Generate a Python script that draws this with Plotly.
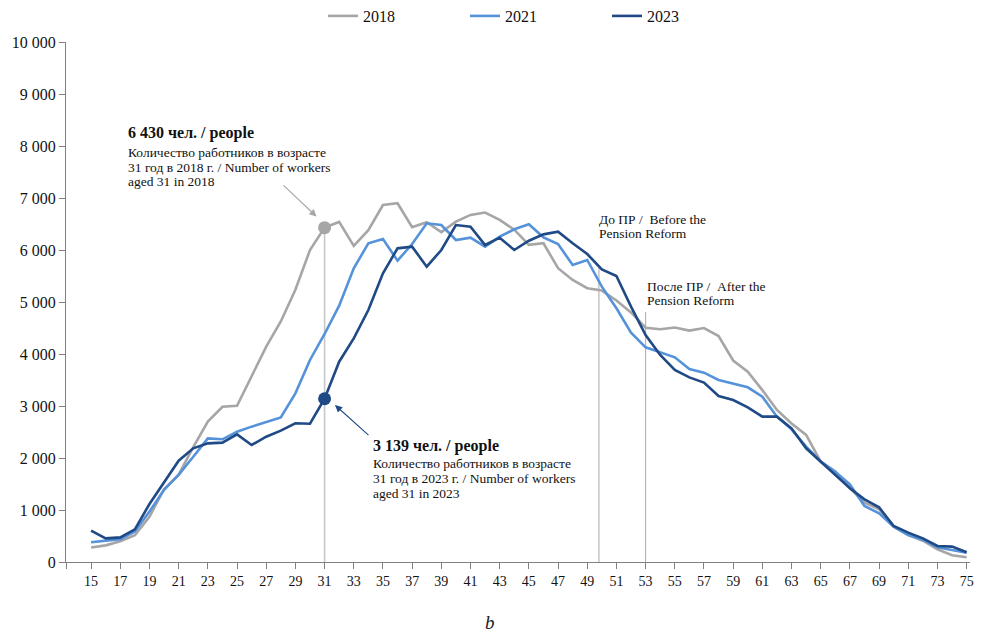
import plotly.graph_objects as go

ages = list(range(15, 76))

workers_2018 = [280, 320, 400, 515, 870, 1400, 1680, 2210, 2700, 2985, 3005,
                3560, 4140, 4625, 5235, 6000, 6430, 6540, 6080, 6380, 6865,
                6900, 6440, 6535, 6345, 6545, 6675, 6720, 6580, 6390, 6100,
                6130, 5650, 5425, 5265, 5220, 5030, 4800, 4505, 4475, 4510,
                4450, 4500, 4345, 3875, 3660, 3305, 2925, 2665, 2445, 1930,
                1740, 1420, 1140, 1015, 680, 520, 410, 245, 130, 90]

workers_2021 = [380, 417, 440, 585, 970, 1390, 1675, 2025, 2378, 2360, 2505,
                2603, 2688, 2780, 3244, 3885, 4385, 4930, 5647, 6128, 6212,
                5795, 6115, 6513, 6480, 6192, 6237, 6064, 6256, 6398, 6494,
                6244, 6115, 5712, 5808, 5295, 4880, 4410, 4128, 4026, 3936,
                3712, 3641, 3500, 3436, 3359, 3179, 2795, 2551, 2218, 1929,
                1737, 1494, 1077, 936, 679, 519, 430, 282, 231, 179]

workers_2023 = [603, 455, 474, 628, 1115, 1545, 1949, 2186, 2282, 2295, 2455,
                2250, 2410, 2526, 2667, 2660, 3139, 3852, 4300, 4846, 5551,
                6032, 6064, 5679, 6000, 6480, 6449, 6096, 6237, 6000, 6179,
                6301, 6352, 6128, 5923, 5628, 5500, 4910, 4365, 3981, 3692,
                3551, 3449, 3192, 3115, 2974, 2795, 2795, 2571, 2186, 1929,
                1673, 1417, 1205, 1051, 692, 564, 455, 308, 295, 186]

series_names = ["2018", "2021", "2023"]
series_colors = ["#a6a6a6", "#5592da", "#1f4a86"]
series_values = [workers_2018, workers_2021, workers_2023]

y_tickvals = list(range(0, 10001, 1000))
y_ticktext = ["0", "1 000", "2 000", "3 000", "4 000", "5 000", "6 000",
              "7 000", "8 000", "9 000", "10 000"]
x_labels = list(range(15, 76, 2))

highlight_age = 31
reform_before_age = 49.8
reform_after_age = 53

FONT = "Liberation Serif, Times New Roman, serif"
X0, X1 = 13.28, 75.23
L, R, T, B = 66, 14, 42, 73
W, H = 984, 635
PW = W - L - R
PH = H - T - B


def dx(px):
    return X0 + (px - L) / PW * (X1 - X0)


def dy(py):
    return (T + PH - py) / PH * 10000


fig = go.Figure()
for name, color, vals in zip(series_names, series_colors, series_values):
    fig.add_trace(go.Scatter(x=ages, y=vals, mode="lines", name=name,
                             line=dict(color=color, width=2.6)))

idx = ages.index(highlight_age)
fig.add_trace(go.Scatter(x=[highlight_age], y=[workers_2018[idx]], mode="markers",
                         marker=dict(color=series_colors[0], size=13),
                         showlegend=False, hoverinfo="skip"))
fig.add_trace(go.Scatter(x=[highlight_age], y=[workers_2023[idx]], mode="markers",
                         marker=dict(color=series_colors[2], size=13),
                         showlegend=False, hoverinfo="skip"))

shapes = [
    dict(type="line", xref="x", yref="y", x0=highlight_age, x1=highlight_age,
         y0=0, y1=workers_2018[idx], line=dict(color="#c8c8c8", width=1.6), layer="below"),
    dict(type="line", xref="x", yref="y", x0=reform_before_age, x1=reform_before_age,
         y0=0, y1=dy(268), line=dict(color="#b0b0b0", width=1.1), layer="below"),
    dict(type="line", xref="x", yref="y", x0=reform_after_age, x1=reform_after_age,
         y0=0, y1=dy(312), line=dict(color="#b0b0b0", width=1.1), layer="below"),
]

annotations = []


def text(px, py, s, size=13.5, color="#111"):
    annotations.append(dict(x=dx(px), y=dy(py), xref="x", yref="y", text=s,
                            showarrow=False, xanchor="left", yanchor="middle",
                            font=dict(family=FONT, size=size, color=color)))


text(126, 133, "<b>6 430 чел. / people</b>", size=16)
text(126, 152, "Количество работников в возрасте")
text(126, 167, "31 год в 2018 г. / Number of workers")
text(126, 181.5, "aged 31 in 2018")

text(371, 446, "<b>3 139 чел. / people</b>", size=16)
text(371, 463.5, "Количество работников в возрасте")
text(371, 478.5, "31 год в 2023 г. / Number of workers")
text(371, 493.5, "aged 31 in 2023")

text(597, 219, "До ПР /  Before the")
text(597, 233.5, "Pension Reform")
text(645, 286, "После ПР /  After the")
text(645, 300.5, "Pension Reform")

annotations.append(dict(x=dx(316.5), y=dy(216.5), ax=dx(282), ay=dy(184),
                        xref="x", yref="y", axref="x", ayref="y", text="",
                        showarrow=True, arrowhead=2, arrowsize=1.3, arrowwidth=1.1,
                        arrowcolor="#a6a6a6"))
annotations.append(dict(x=dx(335), y=dy(405), ax=dx(370), ay=dy(436.5),
                        xref="x", yref="y", axref="x", ayref="y", text="",
                        showarrow=True, arrowhead=2, arrowsize=1.3, arrowwidth=1.1,
                        arrowcolor=series_colors[2]))

annotations.append(dict(x=(490 - L) / PW, y=(T + PH - 622) / PH, xref="paper", yref="paper",
                        text="<i>b</i>", showarrow=False, xanchor="center", yanchor="middle",
                        font=dict(family=FONT, size=19, color="#222")))

fig.update_layout(
    width=W, height=H,
    margin=dict(l=L, r=R, t=T, b=B, autoexpand=False),
    paper_bgcolor="white", plot_bgcolor="white",
    font=dict(family=FONT, size=14, color="#111"),
    shapes=shapes, annotations=annotations,
    legend=dict(orientation="h", x=(323 - L) / PW, xanchor="left",
                y=(T + PH - 16) / PH, yanchor="middle",
                font=dict(family=FONT, size=16, color="#111"),
                entrywidth=97, traceorder="normal"),
    showlegend=True,
)
fig.update_xaxes(range=[X0, X1], tickmode="array",
                 tickvals=[X0] + x_labels, ticktext=[""] + [str(v) for v in x_labels],
                 ticks="outside", ticklen=6, tickwidth=1, tickcolor="#808080",
                 showline=True, linecolor="#808080", linewidth=1.3,
                 showgrid=False, zeroline=False,
                 tickfont=dict(family=FONT, size=14, color="#111"))
fig.update_yaxes(range=[0, 10000], tickmode="array", tickvals=y_tickvals, ticktext=y_ticktext,
                 ticks="outside", ticklen=6, tickwidth=1, tickcolor="#808080",
                 showline=True, linecolor="#808080", linewidth=1.3,
                 showgrid=False, zeroline=False,
                 tickfont=dict(family=FONT, size=16, color="#111"))

fig.write_html("out.html")
